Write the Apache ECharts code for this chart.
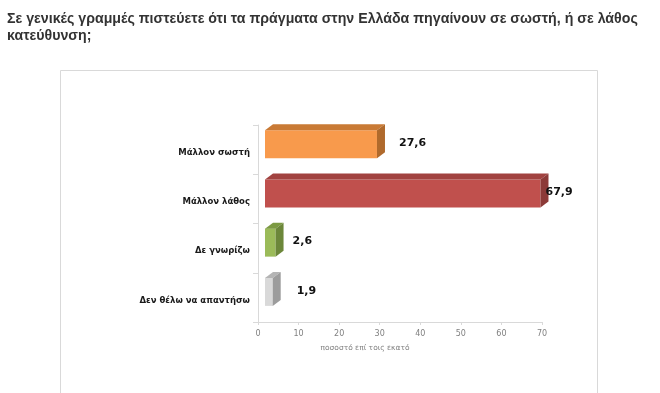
<!DOCTYPE html>
<html>
<head>
<meta charset="utf-8">
<script src="https://cdn.jsdelivr.net/npm/echarts@6/dist/echarts.min.js"></script>
<style>
  html, body { margin: 0; padding: 0; background: #fff; }
  #chart { width: 660px; height: 393px; }
</style>
</head>
<body>
<div id="chart"></div>
<script>
const titleText = "Σε γενικές γραμμές πιστεύετε ότι τα πράγματα στην Ελλάδα πηγαίνουν σε σωστή, ή σε λάθος\nκατεύθυνση;";
const categories = ["Μάλλον σωστή", "Μάλλον λάθος", "Δε γνωρίζω", "Δεν θέλω να απαντήσω"];
const values = [27.6, 67.9, 2.6, 1.9];
const valueLabels = ["27,6", "67,9", "2,6", "1,9"];
const axisName = "ποσοστό επί τοις εκατό";

const faceColors = [
  { front: "#F89A4C", top: "#C97A35", side: "#B06A2C" },
  { front: "#C0504D", top: "#A14240", side: "#8C3A38" },
  { front: "#9BBB59", top: "#7C9A42", side: "#6C873A" },
  { front: "#D9D9D9", top: "#B4B4B4", side: "#9C9C9C" }
];
const labelGap = [14, -3, 9, 16];

const chart = echarts.init(document.getElementById('chart'), null, { renderer: 'canvas' });

const option = {
  animation: false,
  backgroundColor: '#ffffff',
  title: {
    text: titleText,
    left: 7,
    top: 10,
    padding: 0,
    textStyle: {
      fontFamily: 'Liberation Sans',
      fontWeight: 'bold',
      fontSize: 14.2,
      color: '#333333',
      lineHeight: 17.5
    }
  },
  graphic: [{
    type: 'rect',
    shape: { x: 60.5, y: 70.5, width: 537, height: 340 },
    style: { fill: null, stroke: '#d9d9d9', lineWidth: 1 },
    silent: true
  }],
  grid: { left: 258, right: 118, top: 125, bottom: 71 },
  xAxis: {
    type: 'value',
    min: 0,
    max: 70,
    interval: 10,
    splitLine: { show: false },
    axisLine: { show: true, lineStyle: { color: '#d9d9d9' } },
    axisTick: { show: true, length: 3, lineStyle: { color: '#d9d9d9' } },
    axisLabel: { color: '#808080', fontSize: 8, fontFamily: 'DejaVu Sans', margin: 8 },
    name: axisName,
    nameLocation: 'middle',
    nameGap: 22,
    nameTextStyle: { color: '#808080', fontSize: 7.5, fontFamily: 'DejaVu Sans', padding: [0, 70, 0, 0] }
  },
  yAxis: {
    type: 'category',
    data: categories,
    inverse: true,
    axisLine: { show: true, lineStyle: { color: '#d9d9d9' } },
    axisTick: { show: true, length: 5, inside: false, lineStyle: { color: '#d9d9d9' } },
    axisLabel: {
      margin: 8,
      formatter: function (val) { return '{c|' + val + '}'; },
      rich: {
        c: {
          color: '#1a1a1a',
          fontSize: 8.5,
          fontWeight: 'bold',
          fontFamily: 'DejaVu Sans',
          padding: [6, 0, 0, 0]
        }
      }
    }
  },
  series: [{
    type: 'custom',
    data: values.map((v, i) => [v, i]),
    encode: { x: 0, y: 1 },
    renderItem: function (params, api) {
      const i = params.dataIndex;
      const v = api.value(0);
      const cat = api.value(1);
      const p0 = api.coord([0, cat]);
      const p1 = api.coord([v, cat]);
      const off = 7, dx = 8, dy = 6, h = 28;
      const x0 = p0[0] + off;
      const x1 = p1[0] + off;
      const cy = p0[1] - 5.5;
      const yT = cy - h / 2, yB = cy + h / 2;
      const c = faceColors[i];
      return {
        type: 'group',
        children: [
          { type: 'rect', shape: { x: x0, y: yT, width: x1 - x0, height: h }, style: { fill: c.front } },
          { type: 'polygon', shape: { points: [[x0, yT], [x0 + dx, yT - dy], [x1 + dx, yT - dy], [x1, yT]] }, style: { fill: c.top } },
          { type: 'polygon', shape: { points: [[x1, yT], [x1 + dx, yT - dy], [x1 + dx, yB - dy], [x1, yB]] }, style: { fill: c.side } },
          { type: 'text', x: x1 + dx + labelGap[i], y: cy - 1, style: {
              text: valueLabels[i], fill: '#111111', font: 'bold 11px "DejaVu Sans"',
              textAlign: 'left', textVerticalAlign: 'middle' } }
        ]
      };
    }
  }]
};
chart.setOption(option);
</script>
</body>
</html>
